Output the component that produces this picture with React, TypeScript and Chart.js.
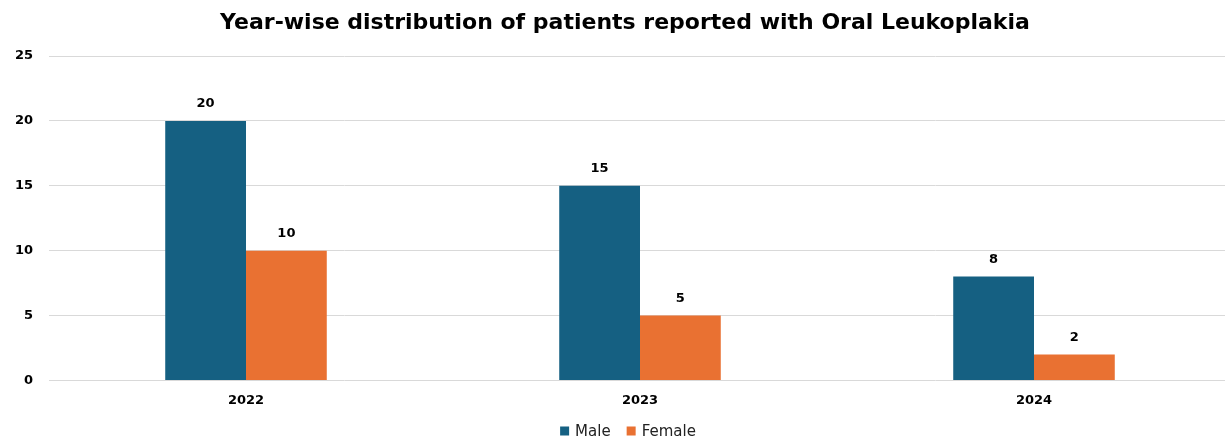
import React, { useEffect, useRef } from "react";
import { Chart, registerables } from "chart.js";

Chart.register(...registerables);

const categories = ["2022", "2023", "2024"];
const maleValues = [20, 15, 8];
const femaleValues = [10, 5, 2];
const seriesNames = ["Male", "Female"];
const seriesColors = ["#156082", "#E97132"];
const titleText = "Year-wise distribution of patients reported with Oral Leukoplakia";

const BOLD = "'DejaVu Sans', 'Liberation Sans', sans-serif";

const decorations = {
  id: "decorations",
  afterDatasetsDraw(chart: any) {
    const ctx = chart.ctx;
    ctx.save();
    ctx.font = `bold 13px ${BOLD}`;
    ctx.fillStyle = "#000";
    ctx.textAlign = "center";
    ctx.textBaseline = "middle";
    chart.data.datasets.forEach((ds: any, i: number) => {
      const meta = chart.getDatasetMeta(i);
      meta.data.forEach((bar: any, j: number) => {
        ctx.fillText(String(ds.data[j]), bar.x, bar.y - 17);
      });
    });
    ctx.restore();
  },
  afterDraw(chart: any) {
    const ctx = chart.ctx;
    ctx.save();
    // title
    ctx.font = `bold 22px ${BOLD}`;
    ctx.fillStyle = "#000";
    ctx.textAlign = "center";
    ctx.textBaseline = "middle";
    ctx.fillText(titleText, 625, 23);
    // legend
    ctx.font = `15px ${BOLD}`;
    ctx.textAlign = "left";
    const box = 9;
    const gap = 6;
    const itemGap = 16;
    const widths = seriesNames.map((n) => box + gap + ctx.measureText(n).width);
    const total = widths.reduce((a, b) => a + b, 0) + itemGap * (seriesNames.length - 1);
    let x = 628 - total / 2;
    const y = 431;
    seriesNames.forEach((n, i) => {
      ctx.fillStyle = seriesColors[i];
      ctx.fillRect(x, y - box / 2, box, box);
      ctx.fillStyle = "#222";
      ctx.fillText(n, x + box + gap, y + 1);
      x += widths[i] + itemGap;
    });
    ctx.restore();
  },
};

export default function App() {
  const ref = useRef<HTMLCanvasElement>(null);
  useEffect(() => {
    document.body.style.margin = "0";
    const chart = new Chart(ref.current!, {
      type: "bar",
      data: {
        labels: categories,
        datasets: seriesNames.map((n, i) => ({
          label: n,
          data: i === 0 ? maleValues : femaleValues,
          backgroundColor: seriesColors[i],
        })),
      },
      options: {
        animation: false,
        responsive: false,
        maintainAspectRatio: false,
        layout: { padding: { top: 56, right: 0, left: 0, bottom: 19 } },
        datasets: { bar: { barPercentage: 1, categoryPercentage: 0.41 } },
        plugins: {
          title: { display: false },
          legend: { display: false },
          tooltip: { enabled: false },
        },
        scales: {
          x: {
            grid: { display: false, drawTicks: false },
            border: { display: false },
            ticks: { color: "#000", font: { family: BOLD, size: 13, weight: "bold" }, padding: 12 },
          },
          y: {
            min: 0,
            max: 25,
            afterFit: (s: any) => { s.width = 49; },
            grid: { color: "#d9d9d9", lineWidth: 1, drawTicks: false },
            border: { display: false },
            ticks: { stepSize: 5, color: "#000", font: { family: BOLD, size: 13, weight: "bold" }, padding: 16 },
          },
        },
      },
      plugins: [decorations],
    });
    return () => chart.destroy();
  }, []);
  return (
    <div style={{ position: "absolute", left: 0, top: 0, width: 1225, height: 439, overflow: "hidden" }}>
      <canvas ref={ref} width={1231} height={439} style={{ display: "block" }} />
    </div>
  );
}
